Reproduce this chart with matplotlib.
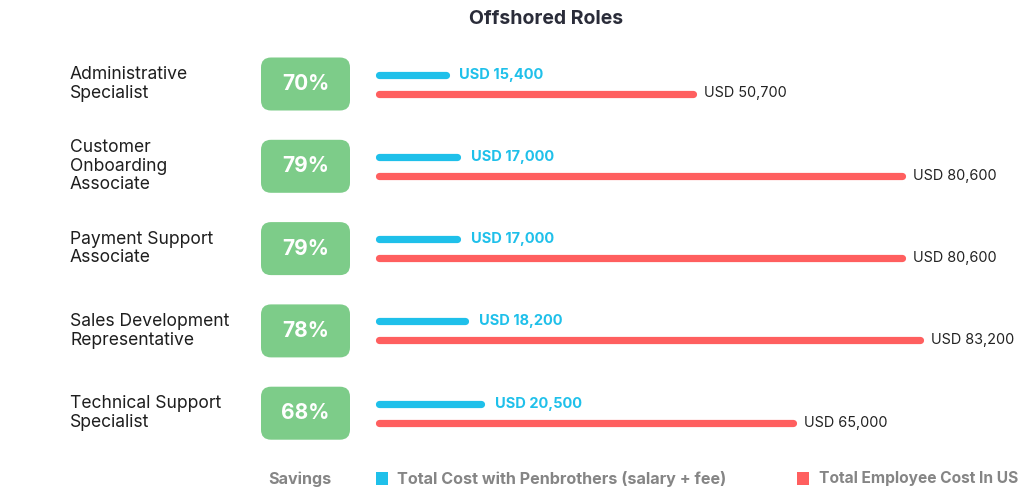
import matplotlib
matplotlib.use("Agg")
import matplotlib.pyplot as plt
from matplotlib.patches import FancyBboxPatch, Rectangle

roles = ["Administrative\nSpecialist", "Customer\nOnboarding\nAssociate",
         "Payment Support\nAssociate", "Sales Development\nRepresentative",
         "Technical Support\nSpecialist"]
savings = [70, 79, 79, 78, 68]
penbrothers_cost = [15400, 17000, 17000, 18200, 20500]
us_cost = [50700, 80600, 80600, 83200, 65000]

title = "Offshored Roles"
legend_labels = ["Savings", "Total Cost with Penbrothers (salary + fee)", "Total Employee Cost In US"]

BLUE = "#1fc0ea"
RED = "#ff5f5f"
GREEN = "#7dcc89"
GRAY = "#858585"
DARK = "#2a2c39"
FONT = "Inter"

W, H = 1024, 491
fig = plt.figure(figsize=(W / 100, H / 100), dpi=100)

row_px = 82.3
first_px = 84
ytop = -first_px / row_px
ybot = (H - first_px) / row_px

# bar axes
base = 5900
px_per_unit = 7.0 / 1000
ax_left_px = 379
ax = fig.add_axes([ax_left_px / W, 0, 1 - ax_left_px / W, 1])
ax.set_xlim(base, base + (W - ax_left_px) / px_per_unit)
ax.set_ylim(ybot, ytop)
ax.axis("off")

# overlay axes in pixel x, row y
lay = fig.add_axes([0, 0, 1, 1])
lay.set_xlim(0, W)
lay.set_ylim(ybot, ytop)
lay.axis("off")
lay.patch.set_alpha(0)

off = 9.5 / row_px
lw = 5.2
for i in range(len(roles)):
    yb = i - off
    yr = i + off
    ax.plot([base, penbrothers_cost[i]], [yb, yb], color=BLUE, lw=lw,
            solid_capstyle="round", clip_on=False)
    ax.plot([base, us_cost[i]], [yr, yr], color=RED, lw=lw,
            solid_capstyle="round", clip_on=False)
    ax.annotate(f"USD {penbrothers_cost[i]:,}", (penbrothers_cost[i], yb),
                xytext=(10, 0), textcoords="offset points", va="center", ha="left",
                color=BLUE, fontsize=10.5, fontweight="bold", family=FONT,
                annotation_clip=False)
    ax.annotate(f"USD {us_cost[i]:,}", (us_cost[i], yr),
                xytext=(8, 0), textcoords="offset points", va="center", ha="left",
                color="#222222", fontsize=10.4, family=FONT, annotation_clip=False)

    # savings box
    bw, bh = 89, 53
    box = FancyBboxPatch((261, i - bh / 2 / row_px), bw, bh / row_px,
                         boxstyle="round,pad=0,rounding_size=10",
                         mutation_aspect=1 / row_px,
                         facecolor=GREEN, edgecolor="none")
    lay.add_patch(box)
    lay.text(261 + bw / 2, i, f"{savings[i]}%", ha="center", va="center",
             color="white", fontsize=15, fontweight="bold", family=FONT)

    lay.text(70, i, roles[i], ha="left", va="center", fontsize=12.6,
             color="#1e1e1e", family=FONT, linespacing=1.12)

# title
fig.text(546 / W, 1 - 19 / H, title, ha="center", va="center", fontsize=14,
         fontweight="bold", color=DARK, family=FONT)

# legend
ly = 1 - 479 / H
fig.text(268 / W, ly, legend_labels[0], ha="left", va="center", fontsize=11.6,
         fontweight="bold", color=GRAY, family=FONT)
fig.patches.append(Rectangle((376 / W, ly - 6 / H), 12 / W, 13 / H,
                             transform=fig.transFigure, facecolor=BLUE, edgecolor="none"))
fig.text(397 / W, ly, legend_labels[1], ha="left", va="center", fontsize=11.6,
         fontweight="bold", color=GRAY, family=FONT)
fig.patches.append(Rectangle((797 / W, ly - 6 / H), 12 / W, 13 / H,
                             transform=fig.transFigure, facecolor=RED, edgecolor="none"))
fig.text(819 / W, ly, legend_labels[2], ha="left", va="center", fontsize=11.2,
         fontweight="bold", color=GRAY, family=FONT)

fig.savefig("out.png", dpi=100, facecolor="white")
